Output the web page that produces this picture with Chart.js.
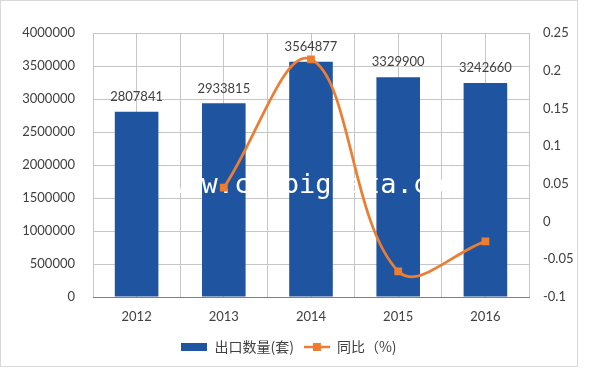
<!DOCTYPE html>
<html>
<head>
<meta charset="utf-8">
<script src="https://cdn.jsdelivr.net/npm/chart.js@4"></script>
<style>
  body { margin: 0; background: #fff; }
  #frame { position: absolute; left: 0; top: 0; width: 576px; height: 365px; border: 1px solid #d9d9d9; }
</style>
</head>
<body>
<div id="frame"><canvas id="chart" width="576" height="365"></canvas></div>
<script>
// --- data ---
const years = ['2012', '2013', '2014', '2015', '2016'];
const exportQty = [2807841, 2933815, 3564877, 3329900, 3242660];
const yoyRate = [null, 0.0449, 0.2151, -0.0659, -0.0262];
const leftTicks = [0, 500000, 1000000, 1500000, 2000000, 2500000, 3000000, 3500000, 4000000];
const rightTicks = [-0.1, -0.05, 0, 0.05, 0.1, 0.15, 0.2, 0.25];
const seriesNames = ['出口数量(套)', '同比（%)'];
const watermark = 'www.chnbigdata.com';

const BLUE = '#1F55A0';
const ORANGE = '#ED7D31';
const GRID = '#c6c6c6';
const TEXT = '#404040';
const tickFont = { family: 'Lato', size: 13 };

// small legend icons
function makeIcon(w, h, draw) {
    const c = document.createElement('canvas');
    c.width = w;
    c.height = h;
    draw(c.getContext('2d'));
    return c;
}
const barIcon = makeIcon(26, 8, g => {
    g.fillStyle = BLUE;
    g.fillRect(0, 0, 26, 8);
});
const lineIcon = makeIcon(26, 10, g => {
    g.strokeStyle = ORANGE;
    g.lineWidth = 2.5;
    g.beginPath();
    g.moveTo(0, 5);
    g.lineTo(26, 5);
    g.stroke();
    g.fillStyle = ORANGE;
    g.fillRect(9, 1, 8, 8);
});

// value labels above bars + watermark, drawn between bars and line
const barExtras = {
    id: 'barExtras',
    afterDatasetDraw(chart, args) {
        if (args.index !== 0) return;
        const ctx = chart.ctx;
        ctx.save();
        ctx.font = '13px Lato';
        ctx.fillStyle = TEXT;
        ctx.textAlign = 'center';
        ctx.textBaseline = 'middle';
        args.meta.data.forEach((bar, i) => {
            ctx.fillText(String(exportQty[i]), bar.x, bar.y - 15);
        });
        ctx.font = '27px "DejaVu Sans Mono"';
        ctx.fillStyle = '#ffffff';
        ctx.textAlign = 'left';
        ctx.textBaseline = 'alphabetic';
        ctx.fillText(watermark, 168, 192);
        ctx.restore();
    }
};

const setTicks = values => scale => {
    scale.ticks = values.map(v => ({ value: v }));
};

new Chart(document.getElementById('chart'), {
    data: {
        labels: years,
        datasets: [
            {
                type: 'bar',
                label: seriesNames[0],
                data: exportQty,
                backgroundColor: BLUE,
                barPercentage: 1,
                categoryPercentage: 0.5,
                yAxisID: 'y',
                order: 1
            },
            {
                type: 'line',
                label: seriesNames[1],
                data: yoyRate,
                borderColor: ORANGE,
                backgroundColor: ORANGE,
                borderWidth: 2.75,
                pointStyle: 'rect',
                pointRadius: 5.5,
                pointBorderWidth: 0,
                tension: 0.38,
                yAxisID: 'y1',
                order: 0
            }
        ]
    },
    options: {
        responsive: false,
        animation: false,
        devicePixelRatio: 1,
        layout: { padding: { top: 32, left: 0, right: 0, bottom: 2 } },
        plugins: {
            tooltip: { enabled: false },
            legend: {
                position: 'bottom',
                labels: {
                    usePointStyle: true,
                    pointStyleWidth: 26,
                    boxHeight: 14,
                    padding: 10,
                    color: TEXT,
                    font: { family: '"Noto Sans CJK SC"', size: 14 },
                    generateLabels(chart) {
                        const items = Chart.defaults.plugins.legend.labels.generateLabels(chart);
                        items.sort((a, b) => a.datasetIndex - b.datasetIndex);
                        items.forEach(it => {
                            it.pointStyle = it.datasetIndex === 0 ? barIcon : lineIcon;
                        });
                        return items;
                    }
                }
            }
        },
        scales: {
            x: {
                type: 'category',
                position: 'bottom',
                offset: true,
                grid: { display: false, drawTicks: false },
                border: { color: '#7f7f7f', width: 1 },
                ticks: { padding: 12, color: TEXT, font: tickFont },
                afterFit: s => { s.height = 33; }
            },
            xg: {
                type: 'linear',
                position: 'top',
                min: 0,
                max: 10,
                ticks: { display: false, stepSize: 1 },
                grid: { color: GRID, drawTicks: false },
                border: { display: false },
                afterFit: s => { s.height = 0; }
            },
            y: {
                position: 'left',
                min: 0,
                max: 4000000,
                afterBuildTicks: setTicks(leftTicks),
                grid: {
                    drawTicks: false,
                    color: c => (c.tick && c.tick.value === 0 ? 'rgba(0,0,0,0)' : GRID)
                },
                border: { display: false },
                ticks: { padding: 18, color: TEXT, font: tickFont, callback: v => String(v) },
                afterFit: s => { s.width = 92; }
            },
            y1: {
                position: 'right',
                min: -0.1,
                max: 0.25,
                afterBuildTicks: setTicks(rightTicks),
                grid: { display: false, drawTicks: false },
                border: { display: false },
                ticks: { padding: 14, color: TEXT, font: tickFont, callback: v => String(Math.round(v * 100) / 100) },
                afterFit: s => { s.width = 48; }
            }
        }
    },
    plugins: [barExtras]
});
</script>
</body>
</html>
